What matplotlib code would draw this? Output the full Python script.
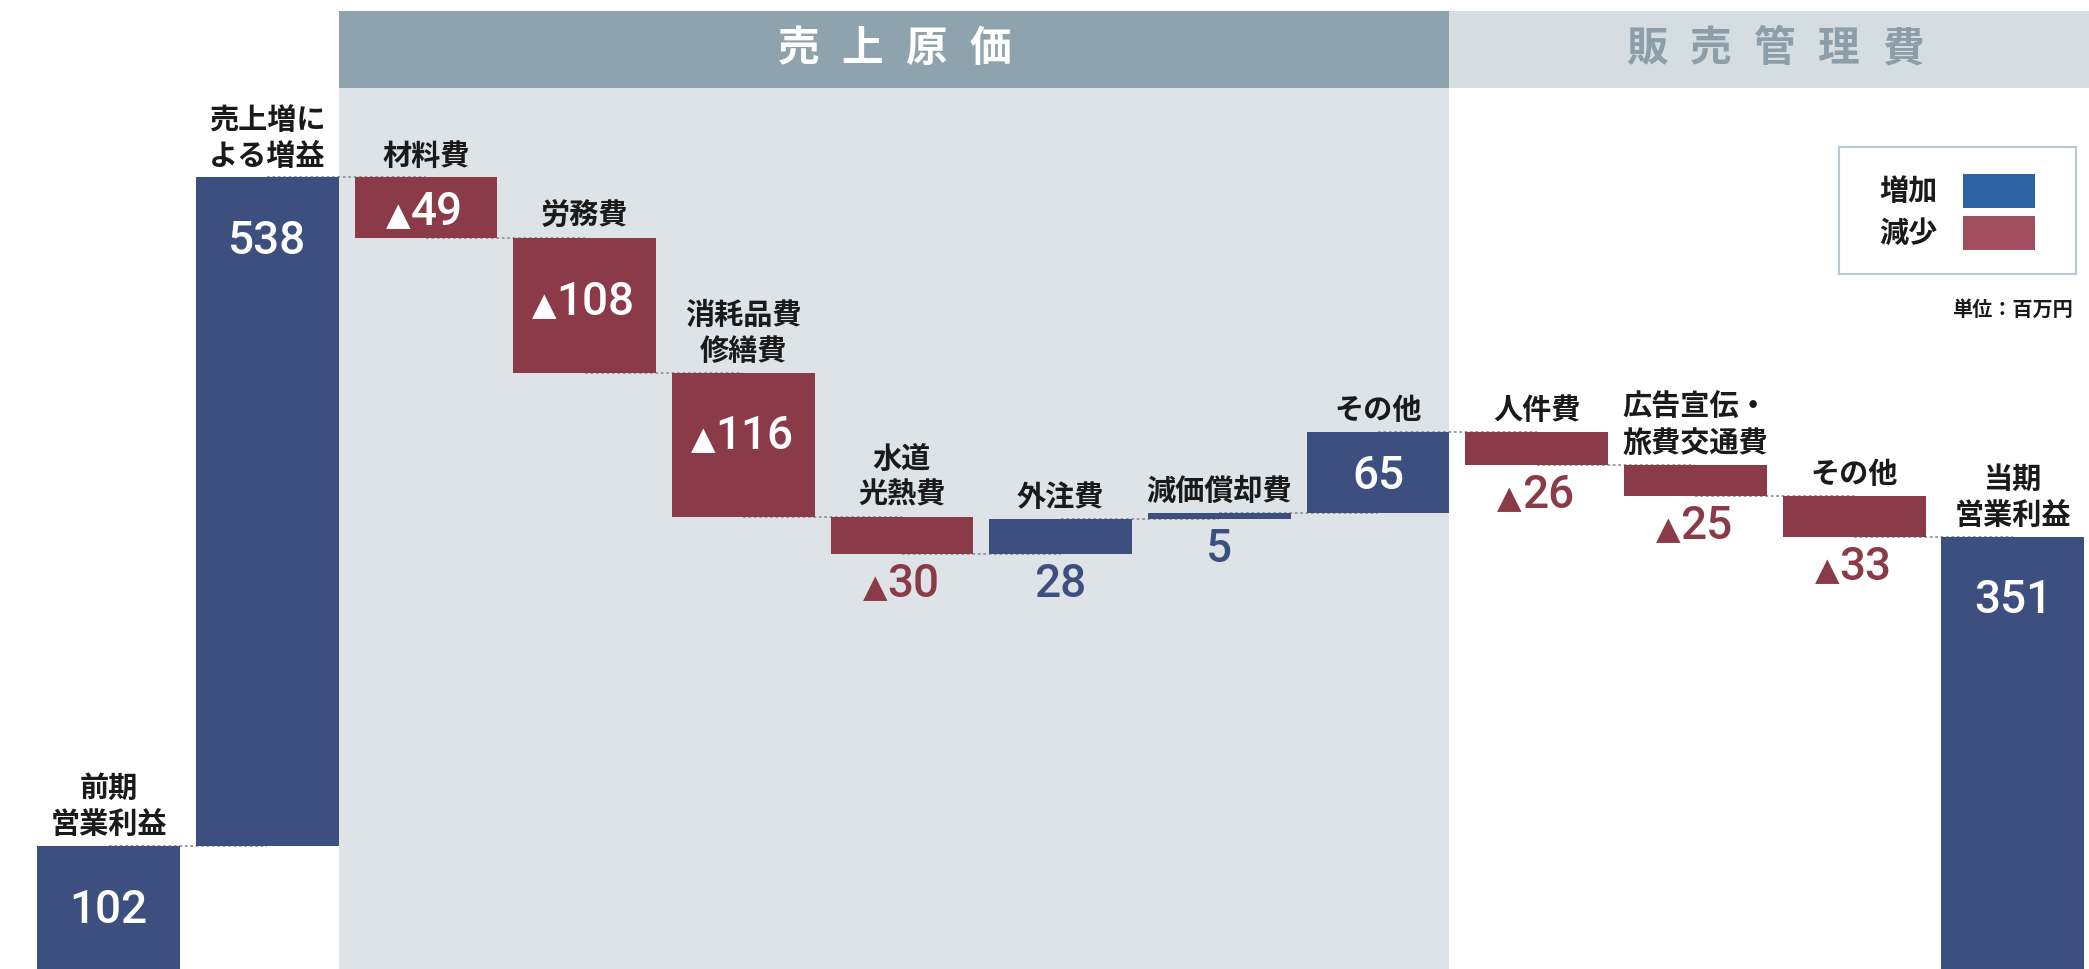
import matplotlib
matplotlib.use("Agg")
import matplotlib.pyplot as plt
from matplotlib.patches import Rectangle
from matplotlib.transforms import blended_transform_factory
import numpy as np

# data (million yen)
labels = ["前期\n営業利益", "売上増に\nよる増益", "材料費", "労務費", "消耗品費\n修繕費",
          "水道\n光熱費", "外注費", "減価償却費", "その他", "人件費",
          "広告宣伝・\n旅費交通費", "その他", "当期\n営業利益"]
start_value = 102
changes = [538, -49, -108, -116, -30, 28, 5, 65, -26, -25, -33]
end_value = 351
value_inside = [True, True, True, True, True, False, False, False, True,
                False, False, False, True]
groups = ["売上原価", "販売管理費"]
legend_labels = ["増加", "減少"]
unit_text = "単位：百万円"

BLUE = "#3d4f7e"
RED = "#8b3a47"
JP = ["Noto Sans CJK JP", "DejaVu Sans"]
NUM = ["Roboto", "DejaVu Sans"]

# waterfall geometry
n = len(labels)
x = np.arange(n)
bottoms, heights, colors = [0], [start_value], [BLUE]
totals = [start_value]
run = start_value
for c in changes:
    new = run + c
    bottoms.append(min(run, new))
    heights.append(abs(c))
    colors.append(BLUE if c > 0 else RED)
    totals.append(new)
    run = new
bottoms.append(0)
heights.append(end_value)
colors.append(BLUE)
totals.append(end_value)
values = [start_value] + changes + [end_value]

fig = plt.figure(figsize=(20.89, 9.69), dpi=100)
ax = fig.add_axes([0, 0, 1, 1])
ax.set_xlim(-0.684, 12.48)
ax.set_ylim(3.2, 782.8)
ax.axis("off")

w = 0.9
bt = blended_transform_factory(ax.transData, ax.transAxes)

# background bands
ax.add_patch(Rectangle((1 + w / 2, 0), 7, 0.9092, transform=bt, color="#dee3e7", zorder=0, lw=0))
ax.add_patch(Rectangle((1 + w / 2, 0.9092), 7, 0.0794, transform=bt, color="#8fa3ae", zorder=0, lw=0))
ax.add_patch(Rectangle((8 + w / 2, 0.9092), 5, 0.0794, transform=bt, color="#d5dde0", zorder=0, lw=0))

pitch = 0.403
for name, col, cx in [(groups[0], "white", 4.95), (groups[1], "#8c9ea9", 10.5)]:
    k = len(name)
    for j, ch in enumerate(name):
        ax.text(cx + (j - (k - 1) / 2) * pitch, 0.949, ch, transform=bt, ha="center", va="center",
                fontsize=30, fontweight="bold", color=col, family=JP, zorder=3)

# connectors
for i in range(n - 1):
    ax.plot([x[i], x[i + 1]], [totals[i], totals[i]], color="#8e969c", lw=1.3,
            ls=(0, (1.5, 1.5)), zorder=1)

ax.bar(x, heights, bottom=bottoms, width=w, color=colors, zorder=2, lw=0)

fig.canvas.draw()

for i in range(n):
    top = bottoms[i] + heights[i]
    bot = bottoms[i]
    # category label
    ax.annotate(labels[i], (x[i], top), xytext=(0, 5), textcoords="offset points",
                ha="center", va="bottom", fontsize=21, fontweight="bold", color="#1a1a1a",
                family=JP, linespacing=1.25, zorder=4)
    v = values[i]
    num = str(abs(v))
    neg = v < 0
    if value_inside[i]:
        y = max(top - 48, (top + bot) / 2)
        yoff = -12
        col = "white"
    else:
        y = bot
        yoff = -31
        col = RED if neg else BLUE
    dx = 8 if neg else 0
    t = ax.annotate(num, (x[i], y), xytext=(dx, yoff), textcoords="offset points",
                    ha="center", va="baseline", fontsize=33, color=col, family=NUM,
                    fontweight="medium", zorder=4)
    if neg:
        ax.annotate("▲", (0, y), xycoords=(t, "data"), xytext=(0, yoff),
                    textcoords="offset points", ha="right", va="baseline",
                    fontsize=23, color=col, family=["DejaVu Sans"], zorder=4)

# legend box
ax.add_patch(Rectangle((0.8803, 0.7172), 0.1135, 0.1311, transform=ax.transAxes,
                       facecolor="white", edgecolor="#b9c7d0", lw=1.5, zorder=3))
for lab, col, yc in [(legend_labels[0], "#2e63a3", 0.8025), (legend_labels[1], "#a14f5e", 0.7595)]:
    ax.text(0.8995, yc, lab, transform=ax.transAxes, ha="left", va="center",
            fontsize=21, fontweight="bold", color="#1a1a1a", family=JP, zorder=4)
    ax.add_patch(Rectangle((0.9397, yc - 0.017), 0.0345, 0.035, transform=ax.transAxes,
                           color=col, lw=0, zorder=4))
ax.text(0.9923, 0.681, unit_text, transform=ax.transAxes, ha="right", va="center",
        fontsize=14.5, fontweight="bold", color="#1a1a1a", family=JP, zorder=4)

fig.savefig("out.png", dpi=100)
